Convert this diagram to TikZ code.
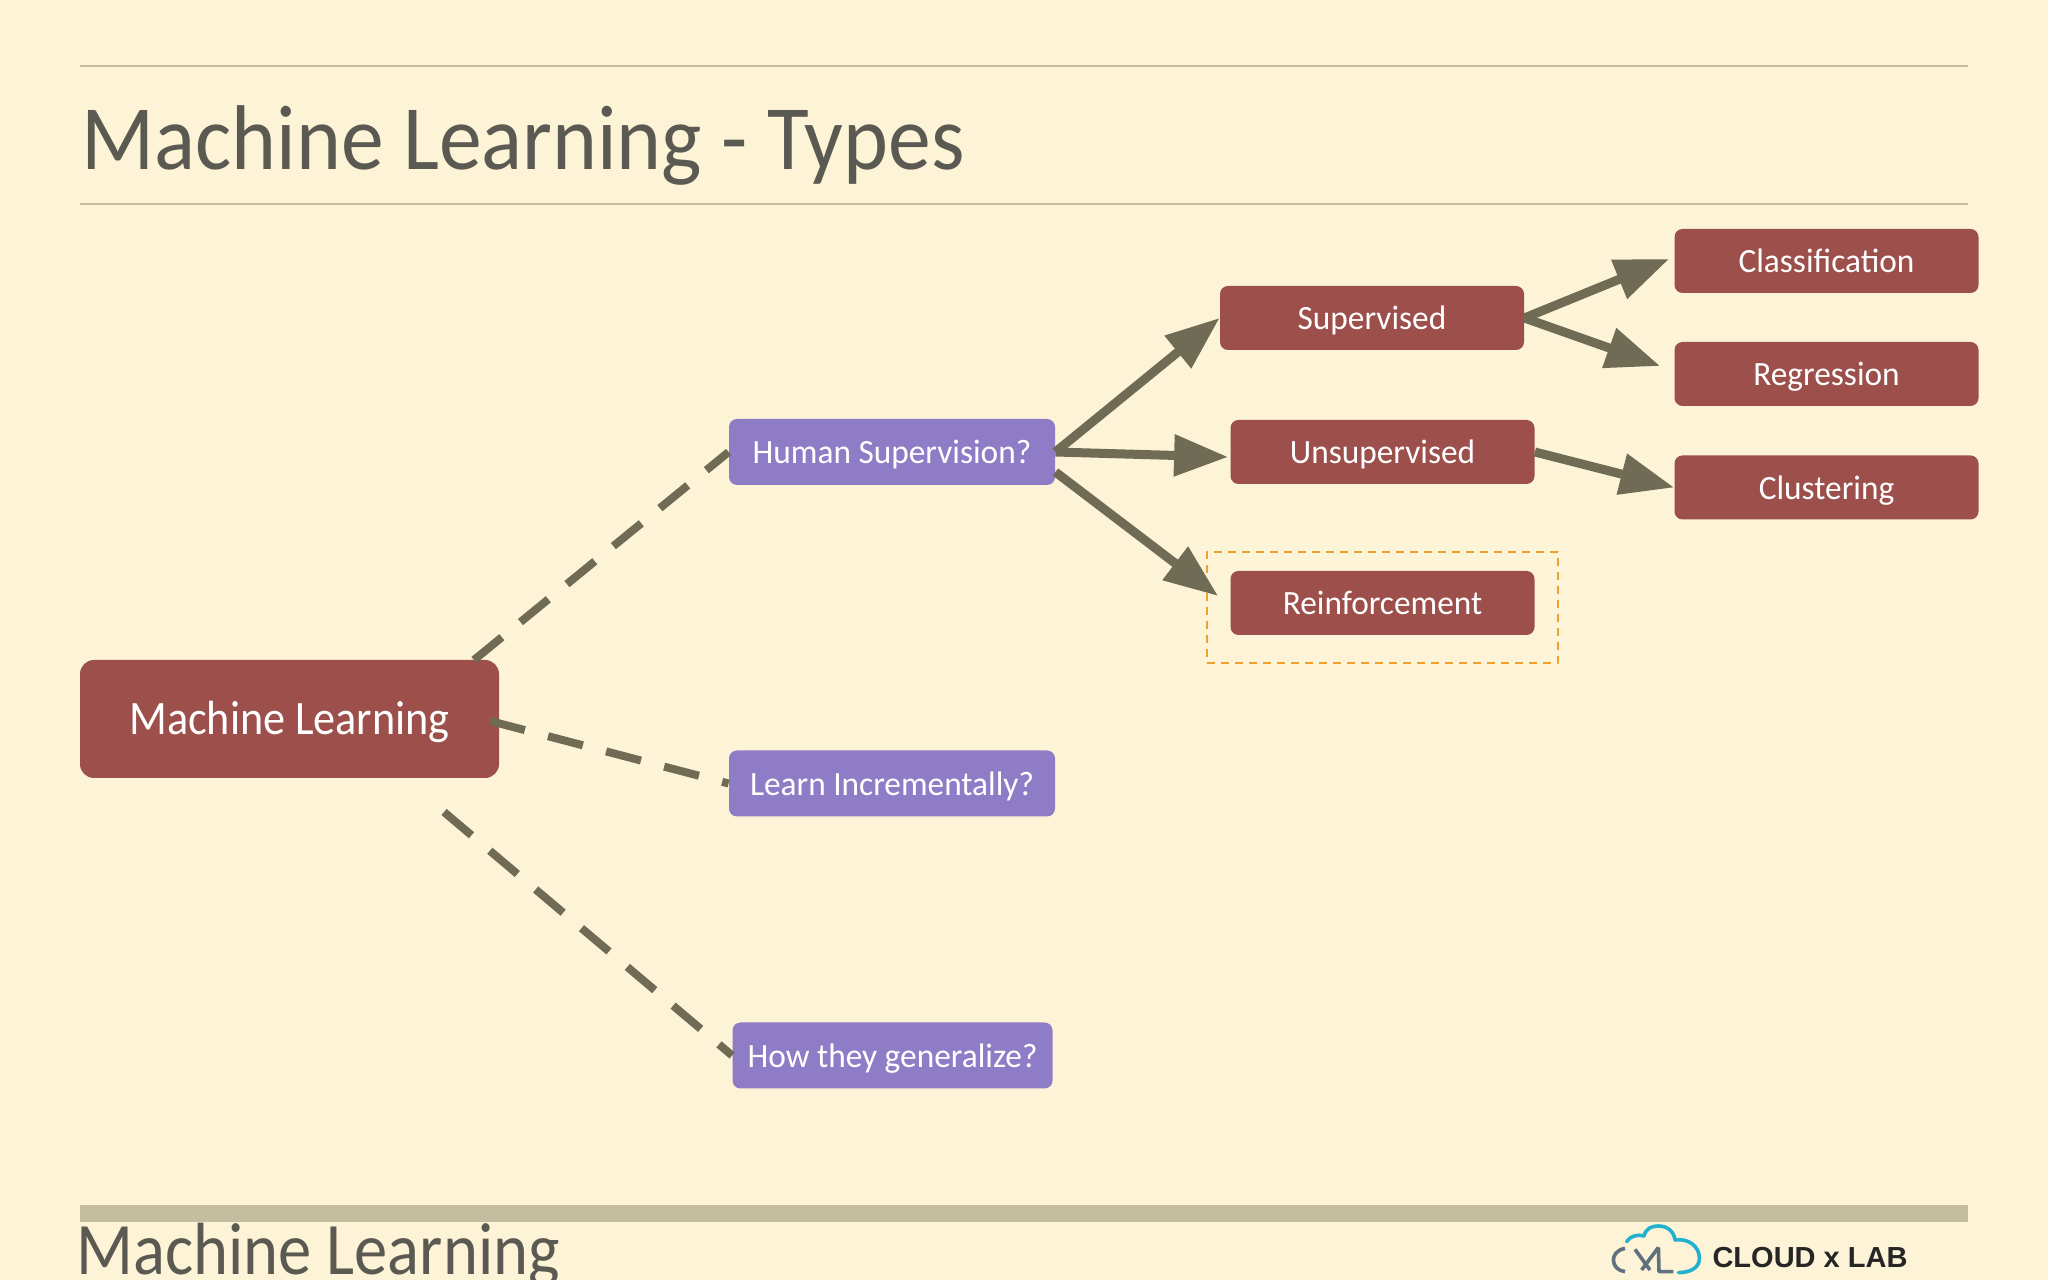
\documentclass[tikz,border=0pt]{standalone}
\usepackage{fontspec}
\setmainfont[FakeStretch=0.98]{Carlito}
\newfontfamily\headfont[FakeStretch=0.93]{Carlito}
\newfontfamily\footfont[FakeStretch=0.90]{Carlito}
\newfontfamily\rootfont[FakeStretch=0.92]{Carlito}
\newfontfamily\logofont{Liberation Sans}
\usetikzlibrary{arrows.meta}
\definecolor{paper}{HTML}{FDF3D6}
\definecolor{brick}{HTML}{9C4F4B}
\definecolor{violet}{HTML}{8F7CC6}
\definecolor{slate}{HTML}{6F6B55}
\definecolor{rulecol}{HTML}{C5BDA0}
\definecolor{inkcol}{HTML}{5B5A52}
\definecolor{hilite}{HTML}{F0A02C}
\definecolor{cloudcol}{HTML}{22B1CE}
\definecolor{cxlcol}{HTML}{60707F}
\tikzset{
  redbox/.style={fill=brick,rounded corners=4bp,text=white,minimum width=152bp,minimum height=32bp,inner sep=0pt,text height=12bp,text depth=0pt,font=\fontsize{17bp}{20bp}\selectfont},
  bluebox/.style={fill=violet,rounded corners=4bp,text=white,minimum width=163bp,minimum height=33bp,inner sep=0pt,text height=12bp,text depth=0pt,font=\fontsize{17bp}{20bp}\selectfont},
  headline/.style={text=inkcol,anchor=base west,inner sep=0pt},
  solidarrow/.style={slate,line width=4.5bp,->},
  dashedline/.style={slate,line width=4bp,dash pattern=on 18bp off 12bp},
}
\begin{document}
\begin{tikzpicture}[>={Triangle[length=27bp,width=20bp]},line join=bevel,]
%%
\useasboundingbox [fill=paper] (0bp,0bp) rectangle (1024bp,640bp);
\coordinate (rule_a) at (40bp,607bp);
\coordinate (rule_b) at (984bp,607bp);
\coordinate (rule_c) at (40bp,538bp);
\coordinate (rule_d) at (984bp,538bp);
\coordinate (rule_e) at (40bp,033bp);
\coordinate (rule_f) at (984bp,033bp);
\draw [rulecol,line width=1.2bp] (rule_a) -- (rule_b);
\draw [rulecol,line width=1.2bp] (rule_c) -- (rule_d);
\draw [rulecol,line width=8.5bp] (rule_e) -- (rule_f);
%
\node (node_title) at (40.5bp,555bp) [headline,font=\headfont\fontsize{46bp}{50bp}\selectfont] {Machine Learning - Types};
\node (node_foot) at (38bp,3bp) [headline,font=\footfont\fontsize{37bp}{40bp}\selectfont] {Machine Learning};
%
\node (node_ml) at (144.75bp,280.5bp) [redbox,minimum width=209.5bp,minimum height=59bp,rounded corners=7bp,text height=16bp,font=\rootfont\fontsize{24bp}{28bp}\selectfont] {Machine Learning};
\node (node_human) at (446bp,414bp) [bluebox] {Human Supervision?};
\node (node_learn) at (446bp,248.25bp) [bluebox] {Learn Incrementally?};
\node (node_how) at (446.25bp,112.25bp) [bluebox,minimum width=160bp] {How they generalize?};
\node (node_sup) at (686bp,481bp) [redbox] {Supervised};
\node (node_unsup) at (691.25bp,414bp) [redbox] {Unsupervised};
\node (node_reinf) at (691.25bp,338.5bp) [redbox] {Reinforcement};
\node (node_class) at (913.25bp,509.5bp) [redbox] {Classification};
\node (node_regr) at (913.25bp,453bp) [redbox] {Regression};
\node (node_clust) at (913.25bp,396.25bp) [redbox] {Clustering};
\node (node_mark) at (691.25bp,336.25bp) [draw=hilite,line width=1bp,dash pattern=on 4bp off 3bp,minimum width=175.5bp,minimum height=55.5bp,inner sep=0pt] {};
%
\coordinate (ml_top) at (237bp,310bp);
\coordinate (ml_mid) at (245bp,279.5bp);
\coordinate (ml_low) at (222bp,234bp);
\draw [dashedline] (ml_top) -- (node_human.west);
\draw [dashedline] (ml_mid) -- (node_learn.west);
\draw [dashedline] (ml_low) -- (node_how.west);
%
\draw [solidarrow] (node_human.east) -- (node_sup.west);
\draw [solidarrow] (node_human.east) -- ([xshift=-1bp,yshift=-2.5bp]node_unsup.west);
\draw [solidarrow] ([yshift=-10bp]node_human.east) -- ([xshift=-6bp,yshift=3.5bp]node_reinf.west);
\draw [solidarrow] (node_sup.east) -- ([xshift=-2.5bp,yshift=1bp]node_class.west);
\draw [solidarrow] (node_sup.east) -- ([xshift=-7bp,yshift=4bp]node_regr.west);
\draw [solidarrow] (node_unsup.east) -- (node_clust.west);
%
\draw [cloudcol,line width=1.8bp,line cap=round] (813.3bp,19.2bp) ..controls (815bp,22bp) and (819bp,23bp) .. (822bp,22bp) ..controls (823bp,26bp) and (826bp,27bp) .. (829.2bp,27bp) ..controls (834bp,27bp) and (837bp,24bp) .. (837.5bp,20bp) ..controls (844bp,21bp) and (849.7bp,17bp) .. (849.7bp,10.8bp) ..controls (849.7bp,6bp) and (845bp,3.7bp) .. (839.2bp,3.7bp);
\draw [cxlcol,line width=1.8bp] (812.5bp,15.8bp) ..controls (808bp,15bp) and (806.7bp,12bp) .. (806.7bp,10bp) ..controls (806.7bp,7bp) and (809bp,4.5bp) .. (812.5bp,4.2bp);
\draw [cxlcol,line width=1.8bp] (817.5bp,15.3bp) -- (825bp,5bp);
\draw [cxlcol,line width=1.8bp] (829.2bp,16.3bp) -- (820.8bp,5bp);
\draw [cxlcol,line width=1.8bp] (829.2bp,16.3bp) -- (829.5bp,4.2bp) -- (836.7bp,4.2bp);
\node (node_logo) at (905bp,11bp) [text=black!85,inner sep=0pt,font=\logofont\bfseries\fontsize{14.5bp}{16bp}\selectfont] {CLOUD x LAB};
%
\end{tikzpicture}
\end{document}
